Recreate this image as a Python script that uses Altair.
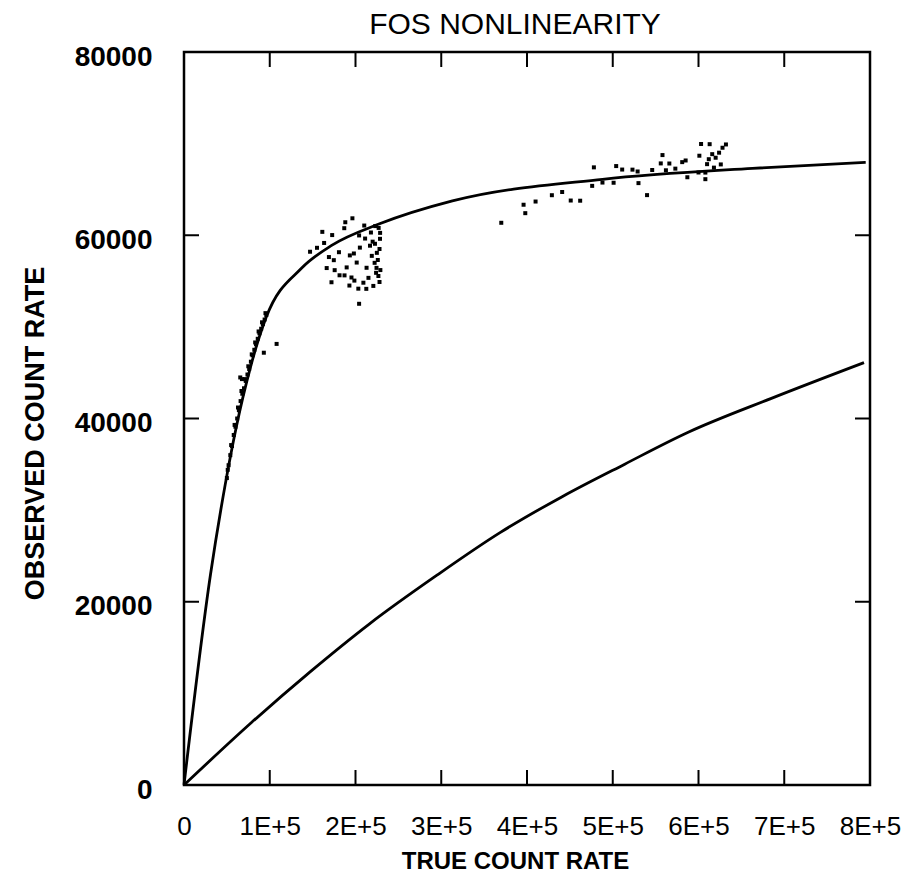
import altair as alt
import pandas as pd

# ---------------- data ----------------
upper_true = [0, 30900, 48100, 60800, 77400, 95700, 137300, 172700, 227300, 313000, 488000, 663000, 795000]
upper_obs = [0, 22970, 32810, 39000, 45560, 51010, 56420, 58920, 61220, 63750, 66110, 67300, 67950]

lower_true = [0, 78700, 147400, 216000, 295000, 369000, 441000, 514000, 588000, 685000, 793000]
lower_obs = [0, 6820, 12380, 17570, 22900, 27570, 31470, 35020, 38500, 42200, 46100]

# scattered measurements (true, observed)
scatter_true = [
    # band along the steep part
    50000, 52000, 54000, 56000, 58000, 60000, 62000, 64000, 66000, 68000, 70000, 72000,
    74000, 76000, 78000, 80000, 82000, 84000, 86000, 88000, 90000, 92000, 94000, 96000,
    51000, 55000, 59000, 63000, 67000, 71000, 75000, 79000, 83000, 87000, 91000, 95000,
    65600, 67600, 93100, 108000,
    # cluster near 2E+5
    147000, 155100, 163400, 161300, 172800, 186900, 188100, 196400, 166400, 174700,
    175700, 181400, 189700, 193400, 198100, 201400, 205100, 204200, 211200, 210200,
    212900, 216900, 219000, 222300, 224500, 226700, 228600, 228700, 222700, 224900,
    215100, 209200, 198700, 192900, 203300, 212600, 220800, 195300, 204200, 172000,
    187200, 180700, 169000,
    227000, 228000, 226000, 229000, 224000, 228000, 220000, 218000, 223000,
    # cluster between 4E+5 and 6.3E+5
    396000, 410000, 429000, 451000, 441000, 398000, 370000, 462000, 478000, 504000,
    511000, 523000, 529000, 476000, 488000, 501000, 530000, 540000, 546000, 558000,
    566000, 581000, 585000, 601000, 603000, 610000, 612000, 616000, 620000, 624000,
    626000, 628000, 632000, 608000, 600000, 587000, 573000, 556000, 562000, 613000,
    618000, 608000,
]
scatter_obs = [
    33500, 34900, 36000, 37000, 38200, 39100, 40000, 40900, 41900, 42700, 43300, 44100,
    44800, 45400, 46200, 46900, 47500, 48100, 48700, 49300, 49800, 50300, 50800, 51300,
    34400, 37100, 39300, 41200, 43000, 44300, 45700, 47000, 48300, 49500, 50500, 51500,
    44480, 44300, 47180, 48140,
    58200, 58630, 59160, 60370, 60020, 60770, 61420, 61850, 56420, 57280,
    56190, 55630, 56490, 57800, 58010, 57020, 58650, 59980, 59640, 61060,
    56450, 58860, 57750, 56990, 56440, 55550, 59610, 60260, 59070, 58080,
    55350, 54820, 55050, 54510, 54170, 54150, 54470, 55390, 52520, 54870,
    55620, 58150, 57620,
    60800, 58500, 57300, 56200, 55900, 54900, 59300, 60300, 61000,
    63330, 63680, 64370, 63790, 64720, 62410, 61360, 63770, 67410, 67550,
    67170, 67160, 66960, 65390, 65750, 65730, 65690, 64380, 67120, 68750,
    67830, 67980, 68160, 68680, 69960, 67760, 68300, 68850, 68460, 69010,
    67730, 69550, 69910, 66840, 66850, 66330, 67270, 67840, 67090, 69940,
    67380, 66120,
]

x_tick_values = [0, 100000, 200000, 300000, 400000, 500000, 600000, 700000, 800000]
x_tick_labels = ["0", "1E+5", "2E+5", "3E+5", "4E+5", "5E+5", "6E+5", "7E+5", "8E+5"]
y_tick_values = [0, 20000, 40000, 60000, 80000]
x_inner_ticks = [100000, 200000, 300000, 400000, 500000, 600000, 700000]
y_inner_ticks = [20000, 40000, 60000]

# ---------------- chart ----------------
W, H = 686, 733
TICK = 15

label_expr = "''"
for v, l in reversed(list(zip(x_tick_values, x_tick_labels))):
    label_expr = f"datum.value == {v} ? '{l}' : ({label_expr})"

x_scale = alt.Scale(domain=[0, 800000], nice=False, zero=False)
y_scale = alt.Scale(domain=[0, 80000], nice=False, zero=False)

x_axis = alt.Axis(
    values=x_tick_values, labelExpr=label_expr, title="TRUE COUNT RATE",
    grid=False, ticks=False, tickSize=0, domain=False,
    labelFont="Liberation Sans, Arial", labelFontSize=26,
    labelColor="black", labelPadding=28, labelFlush=False,
    titleFont="Liberation Sans, Arial", titleFontSize=24, titleFontWeight="bold",
    titleColor="black", titleX=331, titleY=83, titleBaseline="alphabetic",
    titleAnchor="middle",
)
y_axis = alt.Axis(
    values=y_tick_values, format="d", title="OBSERVED COUNT RATE",
    grid=False, ticks=False, tickSize=0, domain=False,
    labelFont="Liberation Sans, Arial", labelFontSize=28, labelFontWeight="bold",
    labelColor="black", labelPadding=32, labelFlush=False, labelOffset=5,
    titleFont="Liberation Sans, Arial", titleFontSize=27, titleFontWeight="bold",
    titleColor="black", titleX=-141, titleY=381, titleAngle=270,
    titleBaseline="alphabetic", titleAnchor="middle",
)

upper_df = pd.DataFrame({"true": upper_true, "obs": upper_obs})
lower_df = pd.DataFrame({"true": lower_true, "obs": lower_obs})
scatter_df = pd.DataFrame({"true": scatter_true, "obs": scatter_obs})
xt_df = pd.DataFrame({"t": x_inner_ticks})
yt_df = pd.DataFrame({"t": y_inner_ticks})

base_x = alt.X("true:Q", scale=x_scale, axis=x_axis)
base_y = alt.Y("obs:Q", scale=y_scale, axis=y_axis)

upper = alt.Chart(upper_df).mark_line(color="black", strokeWidth=2.8, interpolate="monotone").encode(
    x=base_x, y=base_y, order="true:Q")
lower = alt.Chart(lower_df).mark_line(color="black", strokeWidth=2.8, interpolate="monotone").encode(
    x=alt.X("true:Q", scale=x_scale), y=alt.Y("obs:Q", scale=y_scale), order="true:Q")
points = alt.Chart(scatter_df).mark_square(color="black", size=16, opacity=1).encode(
    x=alt.X("true:Q", scale=x_scale), y=alt.Y("obs:Q", scale=y_scale))

tick_bottom = alt.Chart(xt_df).mark_rule(color="black", strokeWidth=2).encode(
    x=alt.X("t:Q", scale=x_scale), y=alt.value(H), y2=alt.value(H - TICK))
tick_top = alt.Chart(xt_df).mark_rule(color="black", strokeWidth=2).encode(
    x=alt.X("t:Q", scale=x_scale), y=alt.value(0), y2=alt.value(TICK))
tick_left = alt.Chart(yt_df).mark_rule(color="black", strokeWidth=2).encode(
    y=alt.Y("t:Q", scale=y_scale), x=alt.value(0), x2=alt.value(TICK))
tick_right = alt.Chart(yt_df).mark_rule(color="black", strokeWidth=2).encode(
    y=alt.Y("t:Q", scale=y_scale), x=alt.value(W), x2=alt.value(W - TICK))

chart = alt.layer(upper, lower, points, tick_bottom, tick_top, tick_left, tick_right).properties(
    width=W, height=H,
    title=alt.TitleParams(
        "FOS NONLINEARITY", font="Liberation Sans, Arial",
        fontSize=30, fontWeight="normal", color="black", anchor="middle",
        offset=12, dx=-12, dy=9),
    autosize=alt.AutoSizeParams(type="none"),
    padding={"left": 184, "top": 52, "right": 41, "bottom": 89},
    background="white",
).configure_view(stroke="black", strokeWidth=2.5)

chart.save("out.html", embed_options={"renderer": "svg", "actions": False})
